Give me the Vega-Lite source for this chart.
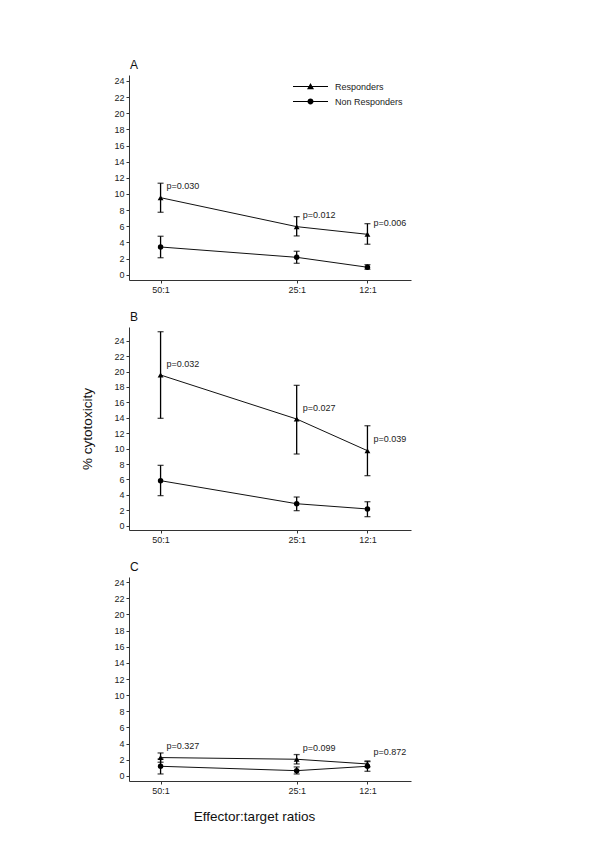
{
  "$schema": "https://vega.github.io/schema/vega-lite/v6.json",
  "padding": {"left": 80, "top": 59, "right": 5, "bottom": 5},
  "background": "white",
  "config": {
    "font": "Liberation Sans",
    "view": {"stroke": null},
    "axis": {"grid": false, "domainColor": "#333", "tickColor": "#333", "labelColor": "#222", "labelFontSize": 9, "labelFont": "Liberation Sans", "titleFont": "Liberation Sans", "titleFontWeight": "normal", "titleColor": "#111", "tickSize": 3, "labelPadding": 2, "domainWidth": 1, "tickWidth": 1},
    "title": {"anchor": "start", "frame": "group", "fontSize": 12, "fontWeight": "normal", "font": "Liberation Sans", "color": "#111", "offset": 3, "dx": 1}
  },
  "bounds": "flush",
  "spacing": 47,
  "resolve": {"legend": {"shape": "independent"}, "scale": {"y": "independent"}},
  "datasets": {
    "d": [
      {"panel": "A", "group": "Responders", "ratio": 50, "mean": 9.54, "lo": 7.73, "hi": 11.33, "p": "p=0.030"},
      {"panel": "A", "group": "Responders", "ratio": 25, "mean": 5.95, "lo": 4.8, "hi": 7.19, "p": "p=0.012"},
      {"panel": "A", "group": "Responders", "ratio": 12, "mean": 5.0, "lo": 3.77, "hi": 6.32, "p": "p=0.006"},
      {"panel": "A", "group": "Non Responders", "ratio": 50, "mean": 3.43, "lo": 2.1, "hi": 4.76, "p": null},
      {"panel": "A", "group": "Non Responders", "ratio": 25, "mean": 2.15, "lo": 1.41, "hi": 2.9, "p": null},
      {"panel": "A", "group": "Non Responders", "ratio": 12, "mean": 0.92, "lo": 0.67, "hi": 1.24, "p": null},
      {"panel": "B", "group": "Responders", "ratio": 50, "mean": 19.55, "lo": 13.93, "hi": 25.17, "p": "p=0.032"},
      {"panel": "B", "group": "Responders", "ratio": 25, "mean": 13.84, "lo": 9.3, "hi": 18.21, "p": "p=0.027"},
      {"panel": "B", "group": "Responders", "ratio": 12, "mean": 9.73, "lo": 6.49, "hi": 12.97, "p": "p=0.039"},
      {"panel": "B", "group": "Non Responders", "ratio": 50, "mean": 5.84, "lo": 3.9, "hi": 7.83, "p": null},
      {"panel": "B", "group": "Non Responders", "ratio": 25, "mean": 2.85, "lo": 1.95, "hi": 3.72, "p": null},
      {"panel": "B", "group": "Non Responders", "ratio": 12, "mean": 2.17, "lo": 1.17, "hi": 3.11, "p": null},
      {"panel": "C", "group": "Responders", "ratio": 50, "mean": 2.28, "lo": 1.7, "hi": 2.85, "p": "p=0.327"},
      {"panel": "C", "group": "Responders", "ratio": 25, "mean": 2.07, "lo": 1.49, "hi": 2.65, "p": "p=0.099"},
      {"panel": "C", "group": "Responders", "ratio": 12, "mean": 1.49, "lo": 1.12, "hi": 1.86, "p": "p=0.872"},
      {"panel": "C", "group": "Non Responders", "ratio": 50, "mean": 1.2, "lo": 0.25, "hi": 2.1, "p": null},
      {"panel": "C", "group": "Non Responders", "ratio": 25, "mean": 0.66, "lo": 0.25, "hi": 1.12, "p": null},
      {"panel": "C", "group": "Non Responders", "ratio": 12, "mean": 1.2, "lo": 0.58, "hi": 1.78, "p": null}
    ]
  },
  "vconcat": [
    {
      "width": 282, "height": 205,
      "title": {"text": "A"},
      "data": {"name": "d"},
      "transform": [{"filter": "datum.panel === 'A'"}],
      "encoding": {
        "x": {"field": "ratio", "type": "quantitative", "scale": {"domain": [55.8, 4], "nice": false, "zero": false},
          "axis": {"title": null, "values": [50, 25, 12], "labelExpr": "datum.value + ':1'"}},
        "y": {"field": "mean", "type": "quantitative", "scale": {"domain": [-0.66, 24.74], "nice": false, "zero": false},
          "axis": {"title": null, "values": [0,2,4,6,8,10,12,14,16,18,20,22,24]}}
      },
      "layer": [
        {"mark": {"type": "line", "color": "#111", "strokeWidth": 1},
         "encoding": {"detail": {"field": "group"}}},
        {"mark": {"type": "errorbar", "color": "#000", "thickness": 1.3, "ticks": {"size": 6, "thickness": 1.3}},
         "encoding": {"y": {"field": "lo", "type": "quantitative", "axis": {"title": null, "values": [0,2,4,6,8,10,12,14,16,18,20,22,24]}}, "y2": {"field": "hi"}, "detail": {"field": "group"}}},
        {"transform": [{"filter": "datum.group === 'Responders'"}],
         "mark": {"type": "point", "shape": "triangle-up", "filled": true, "color": "#000", "size": 34, "opacity": 1}},
        {"transform": [{"filter": "datum.group === 'Non Responders'"}],
         "mark": {"type": "point", "shape": "circle", "filled": true, "color": "#000", "size": 30, "opacity": 1}},
        {"mark": {"type": "point", "filled": true, "color": "#000", "size": 0, "opacity": 1},
         "encoding": {
           "shape": {"field": "group", "type": "nominal", "scale": {"domain": ["Responders", "Non Responders"], "range": ["M-1,-0.03H-0.1V0.03H-1ZM0.1,-0.03H1V0.03H0.1ZM-0.2,0.15L0,-0.2L0.2,0.15Z", "M-1,-0.03H-0.1V0.03H-1ZM0.1,-0.03H1V0.03H0.1ZM-0.17,0A0.17,0.17,0,1,1,0.17,0A0.17,0.17,0,1,1,-0.17,0Z"]},
             "legend": {"orient": "none", "legendX": 164, "legendY": 6, "title": null, "padding": 0, "symbolSize": 1225, "clipHeight": 11, "labelFontSize": 9, "labelColor": "#222", "labelOffset": 7, "rowPadding": 4, "symbolStrokeWidth": 0, "symbolFillColor": "#111", "symbolOpacity": 1}}}},
        {"mark": {"type": "text", "align": "left", "baseline": "middle", "dx": 6, "dy": -11.5, "fontSize": 9, "color": "#222"},
         "transform": [{"filter": "datum.p != null"}],
         "encoding": {"text": {"field": "p"}}}
      ]
    },
    {
      "width": 282, "height": 203,
      "title": {"text": "B"},
      "data": {"name": "d"},
      "transform": [{"filter": "datum.panel === 'B'"}],
      "encoding": {
        "x": {"field": "ratio", "type": "quantitative", "scale": {"domain": [55.8, 4], "nice": false, "zero": false},
          "axis": {"title": null, "values": [50, 25, 12], "labelExpr": "datum.value + ':1'"}},
        "y": {"field": "mean", "type": "quantitative", "scale": {"domain": [-0.56, 25.78], "nice": false, "zero": false},
          "axis": {"title": "% cytotoxicity", "titleFontSize": 13.5, "titleX": -42, "titleY": 101.5, "titleAngle": -90, "titleAlign": "center", "titleBaseline": "middle", "values": [0,2,4,6,8,10,12,14,16,18,20,22,24]}}
      },
      "layer": [
        {"mark": {"type": "line", "color": "#111", "strokeWidth": 1},
         "encoding": {"detail": {"field": "group"}}},
        {"mark": {"type": "errorbar", "color": "#000", "thickness": 1.3, "ticks": {"size": 6, "thickness": 1.3}},
         "encoding": {"y": {"field": "lo", "type": "quantitative", "axis": {"title": "% cytotoxicity", "titleFontSize": 13.5, "titleX": -42, "titleY": 101.5, "titleAngle": -90, "titleAlign": "center", "titleBaseline": "middle", "values": [0,2,4,6,8,10,12,14,16,18,20,22,24]}}, "y2": {"field": "hi"}, "detail": {"field": "group"}}},
        {"transform": [{"filter": "datum.group === 'Responders'"}],
         "mark": {"type": "point", "shape": "triangle-up", "filled": true, "color": "#000", "size": 34, "opacity": 1}},
        {"transform": [{"filter": "datum.group === 'Non Responders'"}],
         "mark": {"type": "point", "shape": "circle", "filled": true, "color": "#000", "size": 30, "opacity": 1}},
        {"mark": {"type": "text", "align": "left", "baseline": "middle", "dx": 6, "dy": -11.5, "fontSize": 9, "color": "#222"},
         "transform": [{"filter": "datum.p != null"}],
         "encoding": {"text": {"field": "p"}}}
      ]
    },
    {
      "width": 282, "height": 204,
      "title": {"text": "C"},
      "data": {"name": "d"},
      "transform": [{"filter": "datum.panel === 'C'"}],
      "encoding": {
        "x": {"field": "ratio", "type": "quantitative", "scale": {"domain": [55.8, 4], "nice": false, "zero": false},
          "axis": {"title": "Effector:target ratios", "titleFontSize": 13.5, "titleX": 125, "titleY": 39, "titleAlign": "center", "titleBaseline": "alphabetic", "values": [50, 25, 12], "labelExpr": "datum.value + ':1'"}},
        "y": {"field": "mean", "type": "quantitative", "scale": {"domain": [-0.62, 24.62], "nice": false, "zero": false},
          "axis": {"title": null, "values": [0,2,4,6,8,10,12,14,16,18,20,22,24]}}
      },
      "layer": [
        {"mark": {"type": "line", "color": "#111", "strokeWidth": 1},
         "encoding": {"detail": {"field": "group"}}},
        {"mark": {"type": "errorbar", "color": "#000", "thickness": 1.3, "ticks": {"size": 6, "thickness": 1.3}},
         "encoding": {"y": {"field": "lo", "type": "quantitative", "axis": {"title": null, "values": [0,2,4,6,8,10,12,14,16,18,20,22,24]}}, "y2": {"field": "hi"}, "detail": {"field": "group"}}},
        {"transform": [{"filter": "datum.group === 'Responders'"}],
         "mark": {"type": "point", "shape": "triangle-up", "filled": true, "color": "#000", "size": 34, "opacity": 1}},
        {"transform": [{"filter": "datum.group === 'Non Responders'"}],
         "mark": {"type": "point", "shape": "circle", "filled": true, "color": "#000", "size": 30, "opacity": 1}},
        {"mark": {"type": "text", "align": "left", "baseline": "middle", "dx": 6, "dy": -11.5, "fontSize": 9, "color": "#222"},
         "transform": [{"filter": "datum.p != null"}],
         "encoding": {"text": {"field": "p"}}}
      ]
    }
  ]
}
